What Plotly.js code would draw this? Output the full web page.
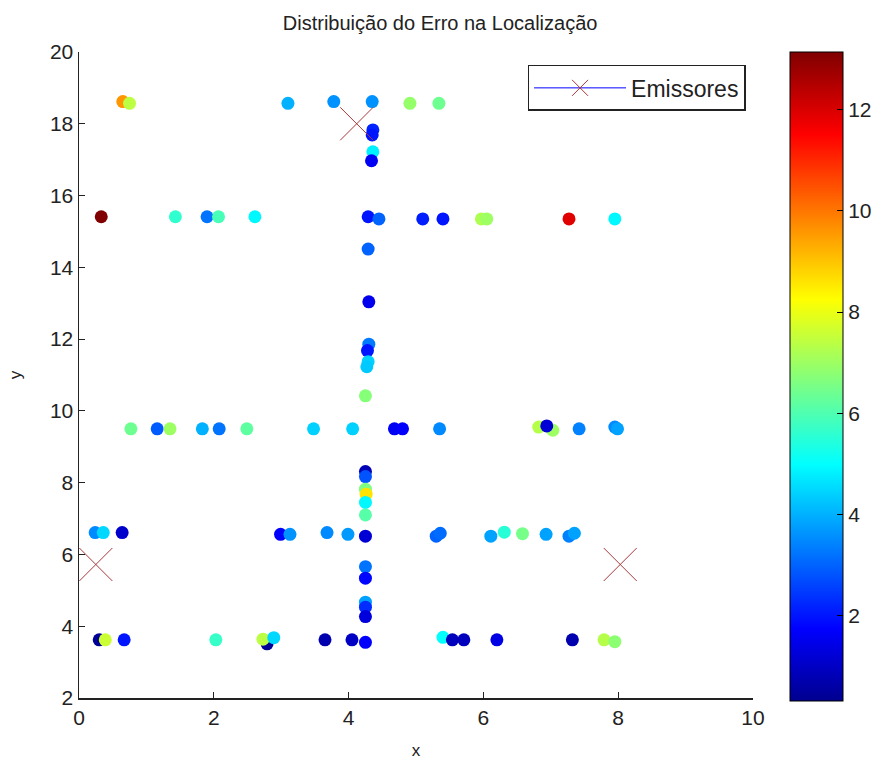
<!DOCTYPE html>
<html>
<head>
<meta charset="utf-8">
<script src="https://cdn.plot.ly/plotly-3.0.1.min.js"></script>
<style>html,body{margin:0;padding:0;background:#fff;}#chart{width:890px;height:763px;}</style>
</head>
<body>
<div id="chart"></div>
<script>
// Estimated receiver positions and localization error
const pointX = [
  0.65, 0.75, 3.10, 3.78, 4.35, 4.91, 5.34,
  4.36, 4.35, 4.36, 4.34,
  0.33, 1.43, 1.90, 2.07, 2.61, 4.29, 4.45, 5.10, 5.40, 5.97, 6.05, 7.27, 7.95,
  4.29, 4.30, 4.30, 4.28, 4.29, 4.27, 4.25,
  0.77, 1.16, 1.35, 1.83, 2.08, 2.49, 3.48, 4.06, 4.68, 4.80, 5.35, 6.82, 7.03, 6.94, 7.42, 7.95, 7.99,
  4.25, 4.25, 4.25, 4.26, 4.25, 4.25,
  0.24, 0.36, 0.64, 2.99, 3.13, 3.68, 3.99, 4.25, 5.30, 5.36, 6.11, 6.31, 6.58, 6.93, 7.27, 7.35,
  4.25, 4.25, 4.25, 4.25, 4.25,
  0.30, 0.39, 0.67, 2.03, 2.79, 2.73, 2.89, 3.65, 4.05, 4.25, 5.40, 5.54, 5.71, 6.20, 7.32, 7.79, 7.95
];
const pointY = [
  18.62, 18.57, 18.57, 18.62, 18.62, 18.57, 18.57,
  17.83, 17.69, 17.22, 16.97,
  15.41, 15.41, 15.41, 15.41, 15.41, 15.41, 15.35, 15.35, 15.35, 15.35, 15.35, 15.35, 15.35,
  14.51, 13.04, 11.86, 11.68, 11.37, 11.23, 10.42,
  9.50, 9.50, 9.50, 9.50, 9.50, 9.50, 9.50, 9.50, 9.50, 9.50, 9.50, 9.55, 9.46, 9.58, 9.50, 9.55, 9.50,
  8.31, 8.17, 7.82, 7.68, 7.45, 7.10,
  6.61, 6.61, 6.61, 6.56, 6.56, 6.61, 6.56, 6.51, 6.51, 6.59, 6.51, 6.62, 6.58, 6.56, 6.51, 6.59,
  5.66, 5.34, 4.67, 4.53, 4.27,
  3.62, 3.62, 3.62, 3.62, 3.51, 3.64, 3.68, 3.62, 3.62, 3.55, 3.69, 3.62, 3.62, 3.62, 3.62, 3.62, 3.57
];
const pointErr = [
  9.6, 7.4, 4.0, 3.6, 3.6, 6.9, 6.4,
  2.2, 2.0, 4.8, 1.6,
  13.14, 5.6, 3.2, 5.9, 4.9, 2.0, 3.0, 2.1, 2.0, 7.2, 7.0, 11.9, 4.9,
  3.0, 1.5, 3.3, 2.0, 4.4, 4.3, 6.7,
  6.4, 2.9, 7.0, 4.0, 3.2, 6.2, 4.4, 4.4, 1.6, 1.7, 3.5, 7.3, 7.0, 1.2, 3.4, 3.5, 3.8,
  0.8, 2.8, 6.6, 8.6, 4.9, 6.1,
  3.5, 4.5, 1.1, 1.7, 3.6, 3.5, 3.7, 1.2, 3.0, 3.1, 3.8, 5.5, 6.5, 3.8, 3.4, 3.8,
  3.2, 1.8, 3.8, 2.3, 1.3,
  0.4, 7.6, 2.0, 5.7, 0.4, 7.4, 4.5, 0.7, 1.0, 1.7, 5.0, 0.9, 0.9, 1.4, 0.7, 7.3, 6.8
];
const emitterX = [0.25, 4.12, 8.03];
const emitterY = [5.72, 18.0, 5.72];
const errMin = 0.31, errMax = 13.14;
const colorTicks = [2, 4, 6, 8, 10, 12];
const xTicks = [0, 2, 4, 6, 8, 10];
const yTicks = [2, 4, 6, 8, 10, 12, 14, 16, 18, 20];

// MATLAB jet colormap
const jet = [
  [0, 'rgb(0,0,143)'], [0.111, 'rgb(0,0,255)'], [0.365, 'rgb(0,255,255)'],
  [0.619, 'rgb(255,255,0)'], [0.873, 'rgb(255,0,0)'], [1, 'rgb(128,0,0)']
];

// separate emitters with gaps so no connecting line is drawn
const exGap = [], eyGap = [];
emitterX.forEach((v, i) => { if (i) { exGap.push(null); eyGap.push(null); } exGap.push(v); eyGap.push(emitterY[i]); });

const font = 'Liberation Sans, Arial, sans-serif';

const traces = [
  {
    type: 'scatter', mode: 'markers', x: pointX, y: pointY, showlegend: false,
    marker: {
      size: 13, color: pointErr, colorscale: jet, cmin: errMin, cmax: errMax,
      line: {width: 0}, opacity: 1,
      colorbar: {
        x: 1.0543, xanchor: 'left', xpad: 0, y: 1, yanchor: 'top', ypad: 0,
        thickness: 53, len: 649, lenmode: 'pixels',
        outlinewidth: 1, outlinecolor: '#000',
        tickvals: colorTicks, ticks: 'inside', ticklen: 6, tickcolor: '#000',
        tickfont: {family: font, size: 21, color: '#222'}
      }
    }
  },
  {
    type: 'scatter', mode: 'lines+markers', name: 'Emissores', x: exGap, y: eyGap,
    connectgaps: false,
    line: {color: 'rgb(0,0,255)', width: 1},
    marker: {symbol: 'x-thin-open', size: 33, color: 'rgb(170,55,60)', line: {width: 1, color: 'rgb(170,55,60)'}}
  }
];

const layout = {
  width: 890, height: 763,
  margin: {l: 79.3, r: 121.7, t: 52, b: 65},
  paper_bgcolor: '#fff', plot_bgcolor: '#fff',
  font: {family: font, color: '#222'},
  title: {text: 'Distribuição do Erro na Localização', font: {family: font, size: 20, color: '#222'},
          x: 0.4945, xanchor: 'center', y: 0.970, yanchor: 'middle', yref: 'container'},
  xaxis: {
    range: [0, 10], tickvals: xTicks, ticks: 'inside', ticklen: 6, tickcolor: '#222',
    showline: true, linecolor: '#222', linewidth: 1.5, mirror: false,
    showgrid: false, zeroline: false,
    tickfont: {family: font, size: 21, color: '#222'},
    title: {text: 'x', font: {family: font, size: 17, color: '#222'}, standoff: 16}
  },
  yaxis: {
    range: [2, 20], tickvals: yTicks, ticks: 'inside', ticklen: 6, tickcolor: '#222',
    showline: true, linecolor: '#222', linewidth: 1.5, mirror: false,
    showgrid: false, zeroline: false,
    tickfont: {family: font, size: 21, color: '#222'},
    title: {text: 'y', font: {family: font, size: 17, color: '#222'}, standoff: 24}
  },
  showlegend: true,
  legend: {
    x: 0.6655, xanchor: 'left', y: 0.980, yanchor: 'top',
    bgcolor: '#fff', bordercolor: '#222', borderwidth: 1.5,
    font: {family: font, size: 23, color: '#222'}, itemsizing: 'trace', itemwidth: 92
  }
};

Plotly.newPlot('chart', traces, layout, {displayModeBar: false, staticPlot: true});
</script>
</body>
</html>
